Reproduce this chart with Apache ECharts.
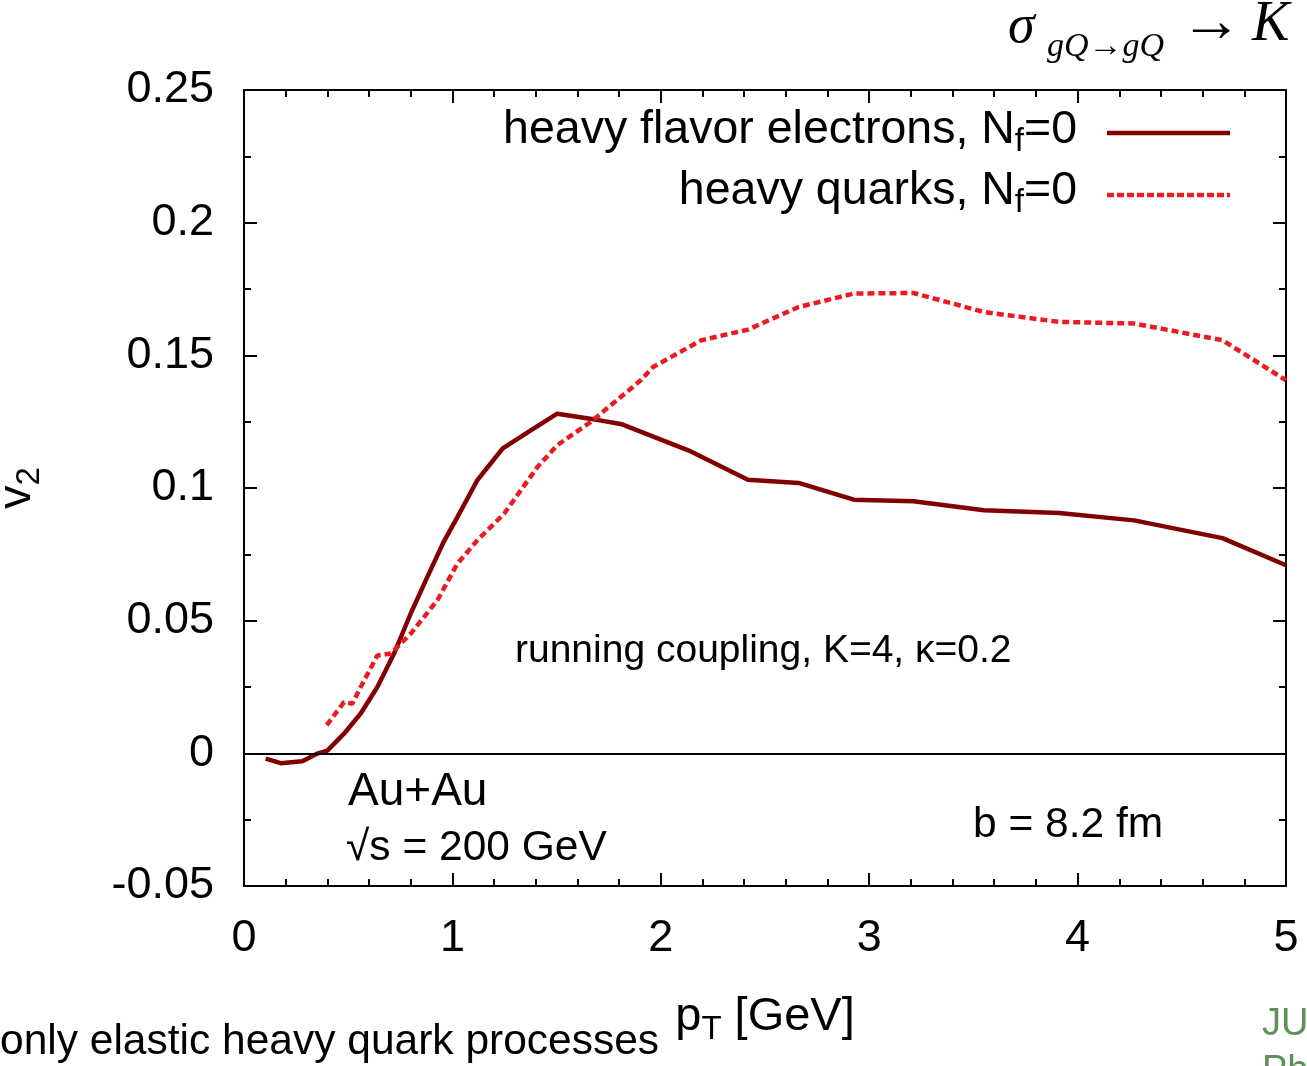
<!DOCTYPE html>
<html>
<head>
<meta charset="utf-8">
<script src="https://cdn.jsdelivr.net/npm/echarts@6/dist/echarts.min.js"></script>
<style>
  html, body { margin: 0; padding: 0; background: #fff; }
  #chart { width: 1307px; height: 1066px; }
</style>
</head>
<body>
<div id="chart"></div>
<script>
// Elliptic flow v2 vs pT, Au+Au at sqrt(s) = 200 GeV, b = 8.2 fm
const electronPt = [0.104, 0.176, 0.28, 0.355, 0.40, 0.48, 0.56, 0.64, 0.72, 0.80, 0.88, 0.96, 1.024, 1.12, 1.24, 1.376, 1.503, 1.708, 1.814, 2.132, 2.418, 2.661, 2.926, 3.212, 3.551, 3.911, 4.271, 4.695, 5.0];
const electronV2 = [-0.002, -0.0037, -0.003, 0.0, 0.001, 0.0074, 0.015, 0.025, 0.0376, 0.0527, 0.0665, 0.080, 0.089, 0.103, 0.1148, 0.1217, 0.128, 0.1255, 0.124, 0.1142, 0.1031, 0.1019, 0.0956, 0.095, 0.0916, 0.0906, 0.0878, 0.0811, 0.0709];

const quarkPt = [0.397, 0.48, 0.52, 0.56, 0.64, 0.704, 0.80, 0.928, 1.024, 1.12, 1.248, 1.328, 1.408, 1.503, 1.664, 1.904, 1.963, 2.195, 2.418, 2.661, 2.926, 3.212, 3.551, 3.911, 4.271, 4.695, 5.0];
const quarkV2 = [0.0106, 0.0193, 0.0187, 0.025, 0.0369, 0.0376, 0.0451, 0.0577, 0.0715, 0.0803, 0.0903, 0.0991, 0.1079, 0.1161, 0.1249, 0.1406, 0.1456, 0.1557, 0.1597, 0.1682, 0.1733, 0.1735, 0.1663, 0.1626, 0.1620, 0.1557, 0.1406];

const seriesNames = ['heavy flavor electrons, N{s|f}=0', 'heavy quarks, N{s|f}=0'];
const xTicks = { min: 0, max: 5, interval: 1 };
const yTicks = { min: -0.05, max: 0.25, interval: 0.05 };

const zip = (xs, ys) => xs.map((x, i) => [x, ys[i]]);

const SANS = '"Liberation Sans", Arial, sans-serif';
const SERIF = '"Liberation Serif", "Times New Roman", serif';
const BLACK = '#000';
const DARK_RED = '#820000';
const RED = '#ea1c22';

const chart = echarts.init(document.getElementById('chart'), null, { renderer: 'canvas' });

const axisCommon = {
  axisLine: { show: true, onZero: false, lineStyle: { color: BLACK, width: 2 } },
  axisTick: { show: true, inside: true, length: 13, lineStyle: { color: BLACK, width: 2 } },
  minorTick: { show: true, length: 7, lineStyle: { color: BLACK, width: 2 } },
  splitLine: { show: false }
};

const subRich = { s: { fontFamily: SANS, fontSize: 33, color: BLACK, padding: [24, 0, 0, 0] } };

chart.setOption({
  animation: false,
  backgroundColor: '#fff',
  grid: { left: 244, right: 21, top: 90, bottom: 180, containLabel: false, outerBoundsMode: 'none' },
  xAxis: [
    Object.assign({}, axisCommon, {
      type: 'value', position: 'bottom',
      min: xTicks.min, max: xTicks.max, interval: xTicks.interval,
      minorTick: Object.assign({}, axisCommon.minorTick, { splitNumber: 5 }),
      axisLabel: { color: BLACK, fontFamily: SANS, fontSize: 45, margin: 30 },
      name: 'p{s|T} [GeV]', nameLocation: 'middle', nameGap: 103,
      nameTextStyle: { color: BLACK, fontFamily: SANS, fontSize: 47, rich: subRich }
    }),
    Object.assign({}, axisCommon, {
      type: 'value', position: 'top',
      min: xTicks.min, max: xTicks.max, interval: xTicks.interval,
      minorTick: Object.assign({}, axisCommon.minorTick, { splitNumber: 5 }),
      axisLabel: { show: false }
    })
  ],
  yAxis: [
    Object.assign({}, axisCommon, {
      type: 'value', position: 'left',
      min: yTicks.min, max: yTicks.max, interval: yTicks.interval,
      minorTick: Object.assign({}, axisCommon.minorTick, { splitNumber: 2 }),
      axisLabel: { color: BLACK, fontFamily: SANS, fontSize: 45, margin: 30 },
      name: 'v{s|2}', nameLocation: 'middle', nameGap: 198, nameRotate: 90,
      nameTextStyle: { color: BLACK, fontFamily: SANS, fontSize: 47, rich: subRich }
    }),
    Object.assign({}, axisCommon, {
      type: 'value', position: 'right',
      min: yTicks.min, max: yTicks.max, interval: yTicks.interval,
      minorTick: Object.assign({}, axisCommon.minorTick, { splitNumber: 2 }),
      axisLabel: { show: false }
    })
  ],
  series: [
    {
      name: seriesNames[0], type: 'line', xAxisIndex: 0, yAxisIndex: 0,
      data: zip(electronPt, electronV2),
      showSymbol: false, symbol: 'none', smooth: false,
      lineStyle: { color: DARK_RED, width: 4.5 },
      itemStyle: { color: DARK_RED },
      markLine: {
        silent: true, symbol: 'none', label: { show: false },
        lineStyle: { color: BLACK, width: 2, type: 'solid' },
        data: [{ yAxis: 0 }]
      },
      z: 3
    },
    {
      name: seriesNames[1], type: 'line', xAxisIndex: 0, yAxisIndex: 0,
      data: zip(quarkPt, quarkV2),
      showSymbol: false, symbol: 'none', smooth: false,
      lineStyle: { color: RED, width: 4.5, type: [7, 4] },
      itemStyle: { color: RED },
      z: 4
    }
  ],
  graphic: [
    // key: text on the left, line sample on the right
    {
      type: 'text', x: 1077, y: 130,
      style: { text: seriesNames[0], fontFamily: SANS, fontSize: 46.5, fill: BLACK, align: 'right', verticalAlign: 'middle', rich: subRich }
    },
    {
      type: 'text', x: 1077, y: 191,
      style: { text: seriesNames[1], fontFamily: SANS, fontSize: 46.5, fill: BLACK, align: 'right', verticalAlign: 'middle', rich: subRich }
    },
    { type: 'line', shape: { x1: 1107, y1: 133, x2: 1230, y2: 133 }, style: { stroke: DARK_RED, lineWidth: 4.5 } },
    { type: 'line', shape: { x1: 1107, y1: 195, x2: 1230, y2: 195 }, style: { stroke: RED, lineWidth: 4.5, lineDash: [7, 3] } },
    {
      type: 'text', x: 515, y: 651,
      style: { text: 'running coupling, K=4, κ=0.2', font: '39px ' + SANS, fill: BLACK, verticalAlign: 'middle' }
    },
    {
      type: 'text', x: 348, y: 792,
      style: { text: 'Au+Au', font: '46px ' + SANS, fill: BLACK, verticalAlign: 'middle' }
    },
    {
      type: 'text', x: 346, y: 848,
      style: { text: '√s = 200 GeV', font: '42.5px ' + SANS, fill: BLACK, verticalAlign: 'middle' }
    },
    {
      type: 'text', x: 973, y: 825,
      style: { text: 'b = 8.2 fm', font: '42.5px ' + SANS, fill: BLACK, verticalAlign: 'middle' }
    },
    // cross-section label in the upper right corner
    {
      type: 'text', x: 1008, y: 28,
      style: { text: 'σ', font: 'italic 54px ' + SERIF, fill: BLACK, verticalAlign: 'middle' }
    },
    {
      type: 'text', x: 1047, y: 47,
      style: { text: 'gQ→gQ', font: 'italic 34px ' + SERIF, fill: BLACK, verticalAlign: 'middle' }
    },
    {
      type: 'text', x: 1180, y: 25,
      style: { text: '→', font: '62px ' + SERIF, fill: BLACK, verticalAlign: 'middle' }
    },
    {
      type: 'text', x: 1252, y: 25,
      style: { text: 'K', font: 'italic 56px ' + SERIF, fill: BLACK, verticalAlign: 'middle' }
    },
    {
      type: 'text', x: 0, y: 1042,
      style: { text: 'only elastic heavy quark processes', font: '42.5px ' + SANS, fill: BLACK, verticalAlign: 'middle' }
    },
    {
      type: 'text', x: 1262, y: 1025,
      style: { text: 'JU', font: '38px ' + SANS, fill: '#5f9157', verticalAlign: 'middle' }
    },
    {
      type: 'text', x: 1262, y: 1072,
      style: { text: 'Ph', font: '38px ' + SANS, fill: '#5f9157', verticalAlign: 'middle' }
    }
  ]
});
</script>
</body>
</html>
